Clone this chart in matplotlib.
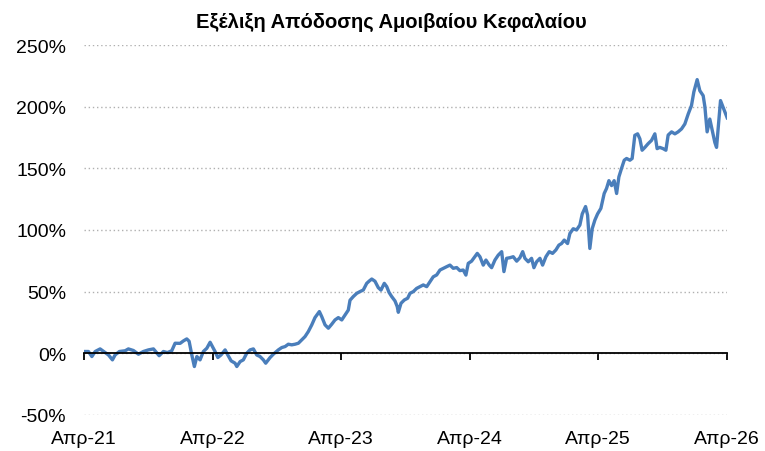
import pandas as pd
import matplotlib.pyplot as plt
from matplotlib.ticker import FuncFormatter

# months elapsed since April 2021 and cumulative return (%)
months = [
    0.0, 0.40, 0.72, 1.03, 1.49, 1.96, 2.27, 2.64, 2.89, 3.29, 3.83, 4.13, 4.60, 5.07,
    5.53, 6.00, 6.47, 7.00, 7.40, 7.77, 8.18, 8.49, 8.96, 9.27, 9.58, 9.80, 10.05, 10.29,
    10.52, 10.82, 11.13, 11.45, 11.76, 11.97, 12.22, 12.48, 12.78, 13.16, 13.41, 13.72,
    14.09, 14.25, 14.56, 14.86, 15.18, 15.49, 15.80, 16.11, 16.42, 16.73, 16.95, 17.36,
    17.66, 18.13, 18.45, 18.76, 19.06, 19.38, 19.69, 20.00, 20.31, 20.62, 20.93, 21.25,
    21.55, 21.96, 22.18, 22.49, 22.80, 23.11, 23.42, 23.73, 24.05, 24.35, 24.66, 24.82,
    25.13, 25.45, 25.75, 26.06, 26.38, 26.62, 26.85, 27.15, 27.46, 27.71, 28.02, 28.25,
    28.46, 28.71, 29.02, 29.23, 29.33, 29.58, 29.89, 30.20, 30.42, 30.73, 31.04, 31.35,
    31.66, 31.98, 32.29, 32.59, 32.91, 33.22, 33.53, 33.84, 34.15, 34.46, 34.78, 35.08,
    35.39, 35.64, 35.86, 36.17, 36.48, 36.70, 36.95, 37.26, 37.51, 37.82, 38.04, 38.35,
    38.66, 38.98, 39.19, 39.44, 39.75, 40.06, 40.38, 40.68, 40.94, 41.15, 41.46, 41.77,
    41.99, 42.24, 42.55, 42.80, 43.11, 43.42, 43.73, 44.04, 44.32, 44.57, 44.82, 45.13,
    45.35, 45.66, 45.97, 46.28, 46.50, 46.81, 47.00, 47.21, 47.43, 47.68, 47.93, 48.24,
    48.55, 48.77, 48.99, 49.24, 49.48, 49.71, 49.92, 50.17, 50.42, 50.64, 50.95, 51.16,
    51.41, 51.67, 51.88, 52.09, 52.35, 52.65, 52.97, 53.28, 53.49, 53.74, 54.05, 54.31,
    54.52, 54.84, 55.15, 55.45, 55.77, 56.08, 56.39, 56.70, 56.92, 57.23, 57.48, 57.79,
    57.95, 58.16, 58.41, 58.66, 58.88, 59.04, 59.19, 59.41, 59.59, 59.81, 60.03,
]
returns = [
    1.4, 1.4, -2.7, 1.4, 3.5, 0.5, -1.4, -5.4, -1.4, 1.4, 2.0, 3.5, 2.2, -0.8,
    1.4, 2.7, 3.5, -2.0, 1.4, 0.5, 2.0, 8.1, 8.0, 10.0, 11.6, 9.7, -1.4, -10.8,
    -2.7, -5.4, 1.4, 4.0, 8.9, 5.4, 1.4, -3.5, -1.4, 2.7, -1.4, -6.2,
    -8.1, -10.8, -6.8, -5.4, 0.0, 2.7, 3.5, -1.4, -2.7, -5.4, -8.1, -3.5,
    -0.8, 2.7, 4.6, 5.4, 7.3, 6.8, 7.3, 8.1, 10.8, 13.5, 17.6, 23.0,
    28.9, 33.8, 29.7, 23.0, 20.3, 23.5, 27.0, 28.9, 27.0, 31.0, 35.0, 43.0,
    46.0, 48.6, 50.0, 51.3, 56.7, 58.6, 60.2, 58.4, 53.2, 51.2, 56.7, 54.0,
    49.4, 46.0, 42.4, 37.8, 33.2, 40.5, 43.2, 44.6, 48.6, 50.0, 52.6, 54.0,
    55.4, 54.0, 58.0, 62.0, 63.5, 67.5, 68.9, 70.2, 71.5, 68.9, 69.5, 67.0,
    67.5, 63.4, 72.9, 74.7, 78.3, 81.0, 78.3, 71.5, 75.6, 71.5, 69.4, 75.6,
    79.6, 82.4, 66.2, 77.0, 77.5, 78.3, 74.7, 77.5, 82.4, 77.0, 74.2, 77.0,
    69.4, 74.2, 77.0, 71.5, 78.3, 82.4, 81.0, 83.8, 87.7, 89.0, 91.8, 89.0,
    97.2, 101.0, 100.0, 104.0, 113.0, 119.0, 112.0, 85.0, 101.0, 108.0, 113.0, 117.5,
    129.6, 133.7, 140.0, 136.0, 140.0, 129.6, 143.0, 150.0, 156.6, 158.0, 156.6, 158.0,
    176.8, 178.0, 174.0, 164.7, 167.0, 170.0, 172.7, 178.0, 166.0, 167.0, 166.0, 164.7,
    177.0, 179.6, 178.0, 179.6, 182.0, 186.0, 194.0, 201.0, 212.0, 222.0, 213.0, 209.0,
    200.0, 179.6, 190.0, 180.0, 171.0, 167.0, 182.0, 205.0, 201.0, 196.0, 191.0,
]
tick_years = [2021, 2022, 2023, 2024, 2025, 2026]
tick_labels = ["Απρ-21", "Απρ-22", "Απρ-23", "Απρ-24", "Απρ-25", "Απρ-26"]

plt.rcParams['font.family'] = ['Liberation Sans', 'DejaVu Sans']

start = pd.Timestamp("2021-04-01")
dates = [start + pd.to_timedelta(m * 30.4375, unit="D") for m in months]
ticks = [pd.Timestamp(f"{y}-04-01") for y in tick_years]

fig = plt.figure(figsize=(7.65, 4.52), dpi=100)
ax = fig.add_axes([0.110, 0.080, 0.840, 0.818])

ax.plot(dates, returns, color="#4a7ebb", lw=2.4)

ax.set_ylim(-50, 250)
ax.set_yticks(range(-50, 251, 50))
ax.yaxis.set_major_formatter(FuncFormatter(lambda v, p: f"{v:.0f}%"))
ax.tick_params(axis="y", length=0, pad=13, labelsize=14)
ax.grid(axis="y", linestyle=(0, (1, 2)), color="#b0b0b0", lw=1.0)
ax.set_axisbelow(True)

ax.set_xlim(ticks[0], ticks[-1])
ax.set_xticks(ticks)
ax.tick_params(axis="x", direction="out", length=5, width=1.3, labelbottom=False)
for s in ["top", "right", "left"]:
    ax.spines[s].set_visible(False)
ax.spines["bottom"].set_position(("data", 0))
ax.spines["bottom"].set_linewidth(1.3)

sec = ax.secondary_xaxis("bottom")
sec.set_xticks(ticks, tick_labels)
sec.tick_params(length=0, pad=11, labelsize=14)
sec.spines["bottom"].set_visible(False)

fig.text(0.511, 0.951, "Εξέλιξη Απόδοσης Αμοιβαίου Κεφαλαίου",
         ha="center", va="center", fontsize=14.5, fontweight="bold")

fig.savefig("out.png", dpi=100)
